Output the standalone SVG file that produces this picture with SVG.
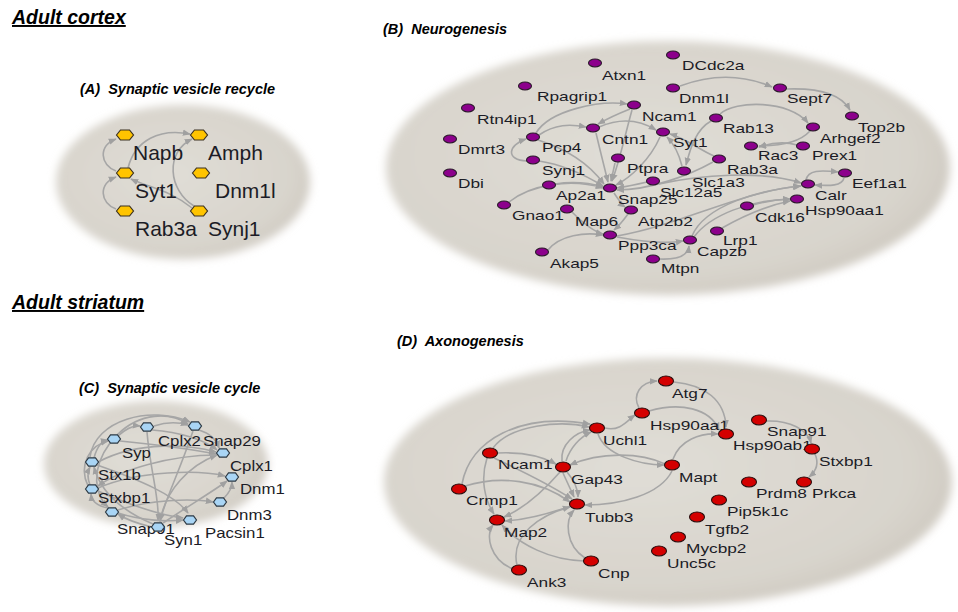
<svg xmlns="http://www.w3.org/2000/svg" xmlns:xlink="http://www.w3.org/1999/xlink" width="958" height="612" viewBox="0 0 958 612">
<style>
.t{font-family:"Liberation Sans",Arial,sans-serif;font-weight:bold;font-style:italic;fill:#000}
.h{font-size:19.5px;text-decoration:underline}
.p{font-size:14.5px}
.l{font-family:"Liberation Sans",Arial,sans-serif;fill:#1c1c26}
.la{font-size:21px}
.lb{font-size:13px}
.lc{font-size:14px}
.e{fill:none;stroke:#a6a6a6;stroke-width:1.6;marker-end:url(#arr)}
.nA{fill:#ffc400;stroke:#3a3020;stroke-width:1.2}
.nB{fill:#8c008c;stroke:#2a1a2a;stroke-width:1.1}
.nC{fill:#a9d5f5;stroke:#2e3a44;stroke-width:1.2}
.nD{fill:#d40000;stroke:#2a1010;stroke-width:1.1}
.bg{fill:url(#bgGrad);filter:url(#soft)}
</style>
<defs>
<radialGradient id="bgGrad" cx="0.45" cy="0.45" r="0.6">
<stop offset="0" stop-color="#e0ddd6"/>
<stop offset="0.8" stop-color="#d8d4cc"/>
<stop offset="1" stop-color="#cdc8bf"/>
</radialGradient>
<filter id="soft" x="-10%" y="-10%" width="120%" height="120%"><feGaussianBlur stdDeviation="4"/></filter>
<marker id="arr" viewBox="0 0 10 10" refX="9" refY="5" markerWidth="8" markerHeight="8" markerUnits="userSpaceOnUse" orient="auto"><path d="M0,1 L10,5 L0,9 z" fill="#a0a0a0"/></marker>
<polygon id="hexA" points="-8.5,0 -4.5,-5 4.5,-5 8.5,0 4.5,5 -4.5,5"/>
<polygon id="hexC" points="-6.5,0 -3.5,-4.2 3.5,-4.2 6.5,0 3.5,4.2 -3.5,4.2"/>
</defs>
<rect width="958" height="612" fill="#fff"/>

<g id="backgrounds">
<ellipse class="bg" cx="183" cy="182" rx="127" ry="77"/>
<ellipse class="bg" cx="668" cy="168" rx="282" ry="127"/>
<ellipse class="bg" cx="156" cy="464" rx="112" ry="63"/>
<ellipse class="bg" cx="668" cy="482" rx="284" ry="124"/>
</g>

<g id="titles">
<text class="t h" x="12" y="24">Adult cortex</text>
<text class="t h" x="12" y="309">Adult striatum</text>
<text class="t p" x="80" y="94">(A) <tspan dx="4">Synaptic vesicle recycle</tspan></text>
<text class="t p" x="383" y="34">(B) <tspan dx="4">Neurogenesis</tspan></text>
<text class="t p" x="79" y="393">(C) <tspan dx="4">Synaptic vesicle cycle</tspan></text>
<text class="t p" x="397" y="346">(D) <tspan dx="4">Axonogenesis</tspan></text>
</g>

<g id="connectors">
<!-- A -->
<path class="e" d="M116 171 C100 165,98 146,116 139"/>
<path class="e" d="M116 209 C100 203,98 184,116 177"/>
<path class="e" d="M128 168 C135 140,160 128,190 134"/>
<path class="e" d="M194 206 C168 190,165 152,192 139"/>
<path class="e" d="M192 208 C170 190,150 188,131 179"/>
<!-- B -->
<path class="e" d="M680 86 Q728 68 772 87"/>
<path class="e" d="M787 89 C815 88,840 92,850 110"/>
<path class="e" d="M720 114 C735 100,790 100,808 123"/>
<path class="e" d="M810 131 C800 142,780 146,759 146"/>
<path class="e" d="M797 145 Q780 140 759 147"/>
<path class="e" d="M539 135 C555 124,570 124,586 127"/>
<path class="e" d="M527 161 C505 160,508 145,526 139"/>
<path class="e" d="M538 140 C570 150,590 165,604 184"/>
<path class="e" d="M539 161 C565 165,585 175,603 186"/>
<path class="e" d="M509 202 C530 185,570 178,603 188"/>
<path class="e" d="M555 184 Q580 180 603 187"/>
<path class="e" d="M599 127 C620 118,640 120,656 130"/>
<path class="e" d="M536 133 C550 110,600 100,627 104"/>
<path class="e" d="M632 110 C625 135,620 160,612 181"/>
<path class="e" d="M660 137 C650 160,630 178,616 185"/>
<path class="e" d="M615 163 L611 181"/>
<path class="e" d="M647 182 Q630 186 617 188"/>
<path class="e" d="M714 156 C700 150,685 138,670 134"/>
<path class="e" d="M713 162 C690 175,650 190,617 190"/>
<path class="e" d="M711 121 C695 130,690 150,686 165"/>
<path class="e" d="M630 109 C615 115,605 120,598 124"/>
<path class="e" d="M682 166 C678 150,672 142,667 137"/>
<path class="e" d="M596 133 C600 150,605 170,608 182"/>
<path class="e" d="M614 193 Q622 205 625 207"/>
<path class="e" d="M628 214 Q620 225 614 230"/>
<path class="e" d="M548 250 C560 235,585 232,603 235"/>
<path class="e" d="M572 212 C585 225,595 232,603 234"/>
<path class="e" d="M617 236 C680 225,740 192,800 186"/>
<path class="e" d="M694 237 C710 215,750 200,790 199"/>
<path class="e" d="M722 228 C745 215,770 205,790 201"/>
<path class="e" d="M753 205 Q770 200 790 199"/>
<path class="e" d="M806 180 C808 170,820 170,838 172"/>
<path class="e" d="M844 178 C842 186,830 186,815 185"/>
<path class="e" d="M659 259 C680 260,688 255,689 246"/>
<path class="e" d="M617 237 Q660 245 683 241"/>
<path class="e" d="M659 184 C700 175,760 170,801 183"/>
<path class="e" d="M692 236 C705 205,760 190,801 186"/>
<!-- C -->
<path class="e" d="M118 436 Q130 425 140 426"/>
<path class="e" d="M154 426 Q172 420 188 425"/>
<path class="e" d="M117 435 C140 412,170 412,188 424"/>
<path class="e" d="M94 458 Q98 442 108 440"/>
<path class="e" d="M90 485 Q86 475 90 467"/>
<path class="e" d="M108 508 Q92 505 91 494"/>
<path class="e" d="M98 462 C140 440,190 445,216 452"/>
<path class="e" d="M199 430 Q215 435 219 448"/>
<path class="e" d="M152 430 C180 432,205 440,217 450"/>
<path class="e" d="M120 441 C160 445,195 450,216 454"/>
<path class="e" d="M98 488 C140 470,200 470,225 476"/>
<path class="e" d="M160 522 C165 490,190 465,217 455"/>
<path class="e" d="M163 523 C190 505,215 490,227 481"/>
<path class="e" d="M118 510 C150 500,190 498,213 502"/>
<path class="e" d="M98 491 C130 505,160 515,183 518"/>
<path class="e" d="M97 465 C140 480,175 495,188 513"/>
<path class="e" d="M153 524 C120 510,100 490,94 467"/>
<path class="e" d="M147 432 C150 470,160 500,158 521"/>
<path class="e" d="M224 498 Q232 490 232 482"/>
<path class="e" d="M193 431 C180 470,165 500,160 521"/>
<path class="e" d="M110 443 C90 470,95 495,108 507"/>
<path class="e" d="M217 455 C170 455,120 470,98 486"/>
<path class="e" d="M90 457 C95 420,150 405,190 422"/>
<path class="e" d="M88 486 C78 465,90 445,108 441"/>
<path class="e" d="M118 513 C140 520,165 522,183 520"/>
<path class="e" d="M152 527 Q130 522 118 514"/>
<!-- D -->
<path class="e" d="M639 408 C632 395,640 382,657 381"/>
<path class="e" d="M674 382 C705 385,725 400,726 427"/>
<path class="e" d="M649 411 C680 402,710 408,719 430"/>
<path class="e" d="M605 428 C620 432,628 420,635 415"/>
<path class="e" d="M598 434 C605 455,640 465,664 465"/>
<path class="e" d="M673 459 C680 440,700 433,718 434"/>
<path class="e" d="M493 448 C510 425,560 420,589 427"/>
<path class="e" d="M462 484 C470 440,520 412,590 424"/>
<path class="e" d="M498 453 C520 452,540 455,556 464"/>
<path class="e" d="M562 461 C560 445,575 432,590 430"/>
<path class="e" d="M566 461 C570 448,580 437,591 432"/>
<path class="e" d="M665 464 C640 452,600 452,570 465"/>
<path class="e" d="M494 458 C520 470,550 485,572 499"/>
<path class="e" d="M563 473 L574 497"/>
<path class="e" d="M567 472 Q578 485 578 497"/>
<path class="e" d="M672 471 C660 495,620 505,585 505"/>
<path class="e" d="M465 486 C500 475,540 480,570 502"/>
<path class="e" d="M571 506 C545 515,525 520,505 521"/>
<path class="e" d="M585 558 C565 545,565 520,574 510"/>
<path class="e" d="M517 565 C510 535,540 515,570 507"/>
<path class="e" d="M584 561 C550 560,520 545,502 525"/>
<path class="e" d="M513 569 C490 560,485 535,493 525"/>
<path class="e" d="M487 458 C480 480,485 500,494 514"/>
<path class="e" d="M560 472 C540 495,520 510,504 517"/>
<path class="e" d="M766 421 C790 420,808 430,811 443"/>
<path class="e" d="M815 454 C820 465,815 472,809 477"/>
</g>

<!-- Panel A nodes -->
<g id="A-Napb"><use href="#hexA" x="125" y="135" class="nA"/><text class="l la" x="133" y="160">Napb</text></g>
<g id="A-Amph"><use href="#hexA" x="199" y="135" class="nA"/><text class="l la" x="208" y="160">Amph</text></g>
<g id="A-Syt1"><use href="#hexA" x="125" y="173" class="nA"/><text class="l la" x="135" y="198">Syt1</text></g>
<g id="A-Dnm1l"><use href="#hexA" x="201" y="173" class="nA"/><text class="l la" x="215" y="198">Dnm1l</text></g>
<g id="A-Rab3a"><use href="#hexA" x="125" y="211" class="nA"/><text class="l la" x="135" y="236">Rab3a</text></g>
<g id="A-Synj1"><use href="#hexA" x="199" y="211" class="nA"/><text class="l la" x="208" y="236">Synj1</text></g>

<!-- Panel B nodes -->
<g id="B-Atxn1"><ellipse class="nB" cx="595" cy="63" rx="6.5" ry="4"/><text class="l lb" transform="translate(602,80) scale(1.33,1)">Atxn1</text></g>
<g id="B-DCdc2a"><ellipse class="nB" cx="673" cy="55" rx="6.5" ry="4"/><text class="l lb" transform="translate(682,70) scale(1.33,1)">DCdc2a</text></g>
<g id="B-Rpagrip1"><ellipse class="nB" cx="525" cy="86" rx="6.5" ry="4"/><text class="l lb" transform="translate(537,101) scale(1.33,1)">Rpagrip1</text></g>
<g id="B-Dnm1l"><ellipse class="nB" cx="673" cy="88" rx="6.5" ry="4"/><text class="l lb" transform="translate(679,103) scale(1.33,1)">Dnm1l</text></g>
<g id="B-Sept7"><ellipse class="nB" cx="780" cy="88" rx="6.5" ry="4"/><text class="l lb" transform="translate(787,103) scale(1.33,1)">Sept7</text></g>
<g id="B-Rtn4ip1"><ellipse class="nB" cx="468" cy="108" rx="6.5" ry="4"/><text class="l lb" transform="translate(477,124) scale(1.33,1)">Rtn4ip1</text></g>
<g id="B-Ncam1"><ellipse class="nB" cx="634" cy="105" rx="6.5" ry="4"/><text class="l lb" transform="translate(642,121) scale(1.33,1)">Ncam1</text></g>
<g id="B-Top2b"><ellipse class="nB" cx="852" cy="116" rx="6.5" ry="4"/><text class="l lb" transform="translate(858,132) scale(1.33,1)">Top2b</text></g>
<g id="B-Rab13"><ellipse class="nB" cx="716" cy="118" rx="6.5" ry="4"/><text class="l lb" transform="translate(723,133) scale(1.33,1)">Rab13</text></g>
<g id="B-Arhgef2"><ellipse class="nB" cx="813" cy="127" rx="6.5" ry="4"/><text class="l lb" transform="translate(820,143) scale(1.33,1)">Arhgef2</text></g>
<g id="B-Cntn1"><ellipse class="nB" cx="593" cy="128" rx="6.5" ry="4"/><text class="l lb" transform="translate(602,144) scale(1.33,1)">Cntn1</text></g>
<g id="B-Syt1"><ellipse class="nB" cx="663" cy="132" rx="6.5" ry="4"/><text class="l lb" transform="translate(673,147) scale(1.33,1)">Syt1</text></g>
<g id="B-Pcp4"><ellipse class="nB" cx="533" cy="137" rx="6.5" ry="4"/><text class="l lb" transform="translate(542,152) scale(1.33,1)">Pcp4</text></g>
<g id="B-Dmrt3"><ellipse class="nB" cx="450" cy="139" rx="6.5" ry="4"/><text class="l lb" transform="translate(458,154) scale(1.33,1)">Dmrt3</text></g>
<g id="B-Rac3"><ellipse class="nB" cx="751" cy="146" rx="6.5" ry="4"/><text class="l lb" transform="translate(758,160) scale(1.33,1)">Rac3</text></g>
<g id="B-Prex1"><ellipse class="nB" cx="803" cy="146" rx="6.5" ry="4"/><text class="l lb" transform="translate(812,160) scale(1.33,1)">Prex1</text></g>
<g id="B-Synj1"><ellipse class="nB" cx="533" cy="160" rx="6.5" ry="4"/><text class="l lb" transform="translate(542,175) scale(1.33,1)">Synj1</text></g>
<g id="B-Ptpra"><ellipse class="nB" cx="618" cy="158" rx="6.5" ry="4"/><text class="l lb" transform="translate(627,173) scale(1.33,1)">Ptpra</text></g>
<g id="B-Rab3a"><ellipse class="nB" cx="719" cy="159" rx="6.5" ry="4"/><text class="l lb" transform="translate(727,174) scale(1.33,1)">Rab3a</text></g>
<g id="B-Slc1a3"><ellipse class="nB" cx="684" cy="171" rx="6.5" ry="4"/><text class="l lb" transform="translate(692,187) scale(1.33,1)">Slc1a3</text></g>
<g id="B-Dbi"><ellipse class="nB" cx="450" cy="173" rx="6.5" ry="4"/><text class="l lb" transform="translate(458,188) scale(1.33,1)">Dbi</text></g>
<g id="B-Eef1a1"><ellipse class="nB" cx="845" cy="173" rx="6.5" ry="4"/><text class="l lb" transform="translate(852,188) scale(1.33,1)">Eef1a1</text></g>
<g id="B-Slc12a5"><ellipse class="nB" cx="653" cy="181" rx="6.5" ry="4"/><text class="l lb" transform="translate(660,197) scale(1.33,1)">Slc12a5</text></g>
<g id="B-Calr"><ellipse class="nB" cx="808" cy="184" rx="6.5" ry="4"/><text class="l lb" transform="translate(815,200) scale(1.33,1)">Calr</text></g>
<g id="B-Ap2a1"><ellipse class="nB" cx="549" cy="185" rx="6.5" ry="4"/><text class="l lb" transform="translate(556,200) scale(1.33,1)">Ap2a1</text></g>
<g id="B-Snap25"><ellipse class="nB" cx="610" cy="188" rx="6.5" ry="4"/><text class="l lb" transform="translate(618,204) scale(1.33,1)">Snap25</text></g>
<g id="B-Hsp90aa1"><ellipse class="nB" cx="797" cy="199" rx="6.5" ry="4"/><text class="l lb" transform="translate(805,215) scale(1.33,1)">Hsp90aa1</text></g>
<g id="B-Gnao1"><ellipse class="nB" cx="504" cy="205" rx="6.5" ry="4"/><text class="l lb" transform="translate(512,220) scale(1.33,1)">Gnao1</text></g>
<g id="B-Cdk16"><ellipse class="nB" cx="747" cy="206" rx="6.5" ry="4"/><text class="l lb" transform="translate(755,222) scale(1.33,1)">Cdk16</text></g>
<g id="B-Map6"><ellipse class="nB" cx="567" cy="209" rx="6.5" ry="4"/><text class="l lb" transform="translate(575,226) scale(1.33,1)">Map6</text></g>
<g id="B-Atp2b2"><ellipse class="nB" cx="631" cy="210" rx="6.5" ry="4"/><text class="l lb" transform="translate(638,226) scale(1.33,1)">Atp2b2</text></g>
<g id="B-Lrp1"><ellipse class="nB" cx="717" cy="231" rx="6.5" ry="4"/><text class="l lb" transform="translate(723,245) scale(1.33,1)">Lrp1</text></g>
<g id="B-Ppp3ca"><ellipse class="nB" cx="610" cy="235" rx="6.5" ry="4"/><text class="l lb" transform="translate(618,250) scale(1.33,1)">Ppp3ca</text></g>
<g id="B-Capzb"><ellipse class="nB" cx="690" cy="240" rx="6.5" ry="4"/><text class="l lb" transform="translate(697,256) scale(1.33,1)">Capzb</text></g>
<g id="B-Akap5"><ellipse class="nB" cx="542" cy="252" rx="6.5" ry="4"/><text class="l lb" transform="translate(550,268) scale(1.33,1)">Akap5</text></g>
<g id="B-Mtpn"><ellipse class="nB" cx="653" cy="259" rx="6.5" ry="4"/><text class="l lb" transform="translate(661,273) scale(1.33,1)">Mtpn</text></g>

<!-- Panel C nodes -->
<g id="C-Cplx2"><use href="#hexC" x="147" y="427" class="nC"/><text class="l lc" transform="translate(158,446) scale(1.2,1)">Cplx2</text></g>
<g id="C-Snap29"><use href="#hexC" x="195" y="426" class="nC"/><text class="l lc" transform="translate(203,446) scale(1.2,1)">Snap29</text></g>
<g id="C-Syp"><use href="#hexC" x="114" y="439" class="nC"/><text class="l lc" transform="translate(122,458) scale(1.2,1)">Syp</text></g>
<g id="C-Cplx1"><use href="#hexC" x="223" y="453" class="nC"/><text class="l lc" transform="translate(230,471) scale(1.2,1)">Cplx1</text></g>
<g id="C-Stx1b"><use href="#hexC" x="92" y="462" class="nC"/><text class="l lc" transform="translate(98,480) scale(1.2,1)">Stx1b</text></g>
<g id="C-Dnm1"><use href="#hexC" x="232" y="477" class="nC"/><text class="l lc" transform="translate(240,494) scale(1.2,1)">Dnm1</text></g>
<g id="C-Stxbp1"><use href="#hexC" x="92" y="489" class="nC"/><text class="l lc" transform="translate(98,503) scale(1.2,1)">Stxbp1</text></g>
<g id="C-Dnm3"><use href="#hexC" x="220" y="502" class="nC"/><text class="l lc" transform="translate(227,520) scale(1.2,1)">Dnm3</text></g>
<g id="C-Snap91"><use href="#hexC" x="112" y="512" class="nC"/><text class="l lc" transform="translate(117,534) scale(1.2,1)">Snap91</text></g>
<g id="C-Pacsin1"><use href="#hexC" x="190" y="520" class="nC"/><text class="l lc" transform="translate(205,538) scale(1.2,1)">Pacsin1</text></g>
<g id="C-Syn1"><use href="#hexC" x="158" y="527" class="nC"/><text class="l lc" transform="translate(164,545) scale(1.2,1)">Syn1</text></g>

<!-- Panel D nodes -->
<g id="D-Atg7"><ellipse class="nD" cx="666" cy="381" rx="7.5" ry="5"/><text class="l lb" transform="translate(672,398) scale(1.33,1)">Atg7</text></g>
<g id="D-Hsp90aa1"><ellipse class="nD" cx="642" cy="413" rx="7.5" ry="5"/><text class="l lb" transform="translate(650,430) scale(1.33,1)">Hsp90aa1</text></g>
<g id="D-Uchl1"><ellipse class="nD" cx="597" cy="428" rx="7.5" ry="5"/><text class="l lb" transform="translate(603,445) scale(1.33,1)">Uchl1</text></g>
<g id="D-Snap91"><ellipse class="nD" cx="759" cy="420" rx="7.5" ry="5"/><text class="l lb" transform="translate(767,436) scale(1.33,1)">Snap91</text></g>
<g id="D-Hsp90ab1"><ellipse class="nD" cx="726" cy="434" rx="7.5" ry="5"/><text class="l lb" transform="translate(733,450) scale(1.33,1)">Hsp90ab1</text></g>
<g id="D-Stxbp1"><ellipse class="nD" cx="812" cy="449" rx="7.5" ry="5"/><text class="l lb" transform="translate(819,466) scale(1.33,1)">Stxbp1</text></g>
<g id="D-Ncam1"><ellipse class="nD" cx="490" cy="453" rx="7.5" ry="5"/><text class="l lb" transform="translate(498,469) scale(1.33,1)">Ncam1</text></g>
<g id="D-Gap43"><ellipse class="nD" cx="563" cy="467" rx="7.5" ry="5"/><text class="l lb" transform="translate(571,484) scale(1.33,1)">Gap43</text></g>
<g id="D-Mapt"><ellipse class="nD" cx="672" cy="465" rx="7.5" ry="5"/><text class="l lb" transform="translate(679,482) scale(1.33,1)">Mapt</text></g>
<g id="D-Crmp1"><ellipse class="nD" cx="459" cy="489" rx="7.5" ry="5"/><text class="l lb" transform="translate(466,505) scale(1.33,1)">Crmp1</text></g>
<g id="D-Prdm8"><ellipse class="nD" cx="749" cy="482" rx="7.5" ry="5"/><text class="l lb" transform="translate(756,498) scale(1.33,1)">Prdm8</text></g>
<g id="D-Prkca"><ellipse class="nD" cx="804" cy="482" rx="7.5" ry="5"/><text class="l lb" transform="translate(812,498) scale(1.33,1)">Prkca</text></g>
<g id="D-Tubb3"><ellipse class="nD" cx="577" cy="504" rx="7.5" ry="5"/><text class="l lb" transform="translate(585,522) scale(1.33,1)">Tubb3</text></g>
<g id="D-Pip5k1c"><ellipse class="nD" cx="719" cy="500" rx="7.5" ry="5"/><text class="l lb" transform="translate(727,516) scale(1.33,1)">Pip5k1c</text></g>
<g id="D-Map2"><ellipse class="nD" cx="497" cy="520" rx="7.5" ry="5"/><text class="l lb" transform="translate(504,537) scale(1.33,1)">Map2</text></g>
<g id="D-Tgfb2"><ellipse class="nD" cx="697" cy="517" rx="7.5" ry="5"/><text class="l lb" transform="translate(705,534) scale(1.33,1)">Tgfb2</text></g>
<g id="D-Mycbp2"><ellipse class="nD" cx="678" cy="537" rx="7.5" ry="5"/><text class="l lb" transform="translate(686,553) scale(1.33,1)">Mycbp2</text></g>
<g id="D-Unc5c"><ellipse class="nD" cx="659" cy="551" rx="7.5" ry="5"/><text class="l lb" transform="translate(667,568) scale(1.33,1)">Unc5c</text></g>
<g id="D-Cnp"><ellipse class="nD" cx="591" cy="561" rx="7.5" ry="5"/><text class="l lb" transform="translate(598,578) scale(1.33,1)">Cnp</text></g>
<g id="D-Ank3"><ellipse class="nD" cx="519" cy="570" rx="7.5" ry="5"/><text class="l lb" transform="translate(527,587) scale(1.33,1)">Ank3</text></g>
</svg>
